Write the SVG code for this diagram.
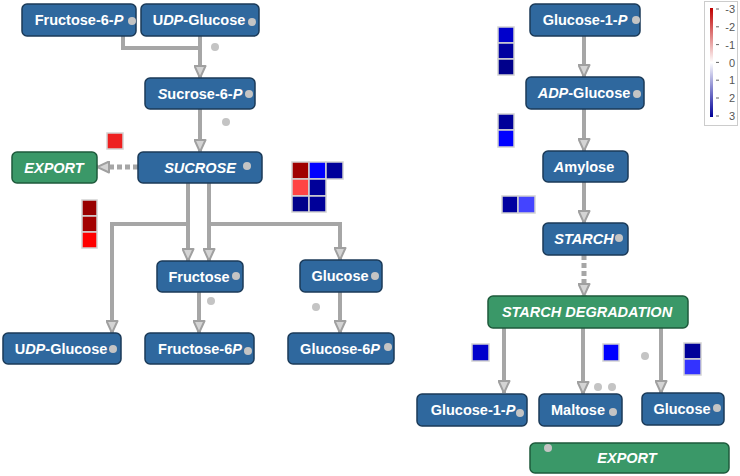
<svg xmlns="http://www.w3.org/2000/svg" width="740" height="476" viewBox="0 0 740 476">
<style>
.n rect{fill:#2f689e;stroke:#1b3a58;stroke-width:1.5}
.g rect{fill:#3a9868;stroke:#1e5a3b;stroke-width:1.5}
text{font-family:"Liberation Sans",Arial,sans-serif;font-weight:bold;font-size:14.5px;fill:#fff;text-anchor:middle}
.i{font-style:italic}
.dot{fill:#c4c4c4}
.c{fill:none;stroke:#a6a6a6;stroke-width:4}
.d{fill:none;stroke:#a6a6a6;stroke-width:5;stroke-dasharray:5 3}
.h rect{stroke:#d2d2d2;stroke-width:1.5}
.lg{font-weight:normal;font-size:11px;fill:#555;text-anchor:end}
</style>
<defs>
<marker id="a" viewBox="0 0 13 13" refX="13" refY="6.5" markerWidth="13" markerHeight="13" markerUnits="userSpaceOnUse" orient="auto">
<path d="M1,1 L13,6.5 L1,12 Z" fill="#d4d4d4" stroke="#a0a0a0" stroke-width="2" stroke-linejoin="round"/>
</marker>
<linearGradient id="lgd" x1="0" y1="0" x2="0" y2="1">
<stop offset="0" stop-color="#c00000"/>
<stop offset="0.5" stop-color="#ffffff"/>
<stop offset="1" stop-color="#000099"/>
</linearGradient>
</defs>
<rect width="740" height="476" fill="#fff"/>

<g id="connectors">
<path class="c" d="M123,36 V48 H200"/>
<path class="c" d="M200,36 V78" marker-end="url(#a)"/>
<path class="c" d="M200,109 V152" marker-end="url(#a)"/>
<path class="d" d="M138,167 H97" marker-end="url(#a)"/>
<path class="c" d="M188,183 V261" marker-end="url(#a)"/>
<path class="c" d="M209,183 V261" marker-end="url(#a)"/>
<path class="c" d="M188,224 H112 V333" marker-end="url(#a)"/>
<path class="c" d="M209,224 H340 V260" marker-end="url(#a)"/>
<path class="c" d="M199,292 V333" marker-end="url(#a)"/>
<path class="c" d="M340,292 V333" marker-end="url(#a)"/>
<path class="c" d="M584,36 V77" marker-end="url(#a)"/>
<path class="c" d="M584,109 V151" marker-end="url(#a)"/>
<path class="c" d="M584,182 V223" marker-end="url(#a)"/>
<path class="d" d="M584,255 V296" marker-end="url(#a)"/>
<path class="c" d="M504,328 V393" marker-end="url(#a)"/>
<path class="c" d="M583,328 V394" marker-end="url(#a)"/>
<path class="c" d="M661,328 V393" marker-end="url(#a)"/>
</g>

<g id="n-fructose6p" class="n"><rect x="22" y="4" width="114" height="32" rx="5"/><text x="79" y="25">Fructose-6-<tspan class="i">P</tspan></text><circle class="dot" cx="132" cy="21" r="4"/></g>
<g id="n-udpglucose-top" class="n"><rect x="141" y="4" width="118" height="32" rx="5"/><text x="199" y="25">U<tspan class="i">DP</tspan>-Glucose</text><circle class="dot" cx="252" cy="22" r="4"/></g>
<g id="n-sucrose6p" class="n"><rect x="145" y="78" width="110" height="31" rx="5"/><text x="200" y="99"><tspan class="i">S</tspan>ucrose-6-<tspan class="i">P</tspan></text><circle class="dot" cx="249" cy="94" r="4"/></g>
<g id="n-sucrose" class="n"><rect x="138" y="152" width="124" height="31" rx="5"/><text x="200" y="173" class="i">SUCROSE</text><circle class="dot" cx="247" cy="166" r="4"/></g>
<g id="n-export-left" class="g"><rect x="12" y="152" width="85" height="31" rx="5"/><text x="54" y="173" class="i">EXPORT</text></g>
<g id="n-fructose" class="n"><rect x="157" y="261" width="86" height="31" rx="5"/><text x="199" y="282">Fructose</text><circle class="dot" cx="236" cy="276" r="4"/></g>
<g id="n-glucose-left" class="n"><rect x="300" y="260" width="82" height="32" rx="5"/><text x="340" y="281">Glucose</text><circle class="dot" cx="375" cy="276" r="4"/></g>
<g id="n-udpglucose-bottom" class="n"><rect x="3" y="333" width="118" height="31" rx="5"/><text x="61" y="354">U<tspan class="i">DP</tspan>-Glucose</text><circle class="dot" cx="113" cy="349" r="4"/></g>
<g id="n-fructose-6p" class="n"><rect x="145" y="333" width="109" height="31" rx="5"/><text x="200" y="354">Fructose-6<tspan class="i">P</tspan></text><circle class="dot" cx="248" cy="351" r="4"/></g>
<g id="n-glucose-6p" class="n"><rect x="288" y="333" width="106" height="31" rx="5"/><text x="340" y="354">Glucose-6<tspan class="i">P</tspan></text><circle class="dot" cx="388" cy="347" r="4"/></g>

<g id="n-glucose1p-top" class="n"><rect x="530" y="4" width="110" height="32" rx="5"/><text x="585" y="25">Glucose-1-<tspan class="i">P</tspan></text><circle class="dot" cx="636" cy="20" r="4"/></g>
<g id="n-adpglucose" class="n"><rect x="526" y="77" width="118" height="32" rx="5"/><text x="584" y="98"><tspan class="i">ADP</tspan>-Glucose</text><circle class="dot" cx="637" cy="94" r="4"/></g>
<g id="n-amylose" class="n"><rect x="543" y="151" width="85" height="31" rx="5"/><text x="584" y="172"><tspan class="i">A</tspan>mylose</text></g>
<g id="n-starch" class="n"><rect x="543" y="223" width="85" height="32" rx="5"/><text x="584" y="244" class="i">STARCH</text><circle class="dot" cx="619" cy="238" r="4"/></g>
<g id="n-starch-degradation" class="g"><rect x="488" y="296" width="200" height="32" rx="5"/><text x="587" y="317" class="i">STARCH DEGRADATION</text></g>
<g id="n-glucose1p-bottom" class="n"><rect x="417" y="394" width="110" height="32" rx="5"/><text x="473" y="415">Glucose-1-<tspan class="i">P</tspan></text><circle class="dot" cx="520" cy="413" r="4"/></g>
<g id="n-maltose" class="n"><rect x="539" y="394" width="83" height="32" rx="5"/><text x="578" y="415">Maltose</text><circle class="dot" cx="613" cy="412" r="4"/></g>
<g id="n-glucose-right" class="n"><rect x="642" y="393" width="82" height="32" rx="5"/><text x="682" y="414">Glucose</text><circle class="dot" cx="717" cy="408" r="4"/></g>
<g id="n-export-right" class="g"><rect x="530" y="443" width="199" height="30" rx="5"/><text x="627" y="463" class="i">EXPORT</text><circle class="dot" cx="548" cy="448" r="4"/></g>

<g id="dots">
<circle class="dot" cx="215" cy="47" r="4"/>
<circle class="dot" cx="226" cy="122" r="4"/>
<circle class="dot" cx="211" cy="301" r="4"/>
<circle class="dot" cx="316" cy="307" r="4"/>
<circle class="dot" cx="598" cy="387" r="4"/>
<circle class="dot" cx="612" cy="387" r="4"/>
<circle class="dot" cx="645" cy="356" r="4"/>
</g>

<g id="heatmaps" class="h">
<rect x="107" y="133" width="16" height="16" fill="#ee2020"/>
<rect x="82" y="200" width="15" height="16" fill="#990000"/>
<rect x="82" y="216" width="15" height="16" fill="#a30000"/>
<rect x="82" y="232" width="15" height="16" fill="#ff0000"/>
<rect x="292" y="162" width="17" height="17" fill="#a00000"/>
<rect x="309" y="162" width="17" height="17" fill="#0000ff"/>
<rect x="326" y="162" width="17" height="17" fill="#00009a"/>
<rect x="292" y="179" width="17" height="17" fill="#ff4444"/>
<rect x="309" y="179" width="17" height="17" fill="#000099"/>
<rect x="292" y="196" width="17" height="16" fill="#00008b"/>
<rect x="309" y="196" width="17" height="16" fill="#000099"/>
<rect x="498" y="27" width="16" height="16" fill="#0000cc"/>
<rect x="498" y="43" width="16" height="16" fill="#0000a0"/>
<rect x="498" y="59" width="16" height="16" fill="#00008b"/>
<rect x="498" y="114" width="16" height="16" fill="#000099"/>
<rect x="498" y="130" width="16" height="17" fill="#0000ff"/>
<rect x="502" y="196" width="16" height="17" fill="#0000a0"/>
<rect x="518" y="196" width="17" height="17" fill="#4444ff"/>
<rect x="472" y="344" width="17" height="17" fill="#0000cc"/>
<rect x="603" y="344" width="16" height="17" fill="#0000ff"/>
<rect x="684" y="343" width="17" height="16" fill="#000099"/>
<rect x="684" y="359" width="17" height="16" fill="#3333ff"/>
</g>

<g id="legend">
<rect x="704.5" y="1.5" width="33" height="124" fill="#fff" stroke="#cccccc"/>
<rect x="710" y="8" width="3" height="109" fill="url(#lgd)"/>
<g stroke="#666" stroke-width="1">
<line x1="716" y1="9" x2="719" y2="9"/>
<line x1="716" y1="26.8" x2="719" y2="26.8"/>
<line x1="716" y1="44.6" x2="719" y2="44.6"/>
<line x1="716" y1="62.4" x2="719" y2="62.4"/>
<line x1="716" y1="80.2" x2="719" y2="80.2"/>
<line x1="716" y1="98" x2="719" y2="98"/>
<line x1="716" y1="116" x2="719" y2="116"/>
</g>
<text class="lg" x="735" y="13">-3</text>
<text class="lg" x="735" y="31">-2</text>
<text class="lg" x="735" y="48.5">-1</text>
<text class="lg" x="735" y="66.5">0</text>
<text class="lg" x="735" y="84">1</text>
<text class="lg" x="735" y="102">2</text>
<text class="lg" x="735" y="120">3</text>
</g>
</svg>
